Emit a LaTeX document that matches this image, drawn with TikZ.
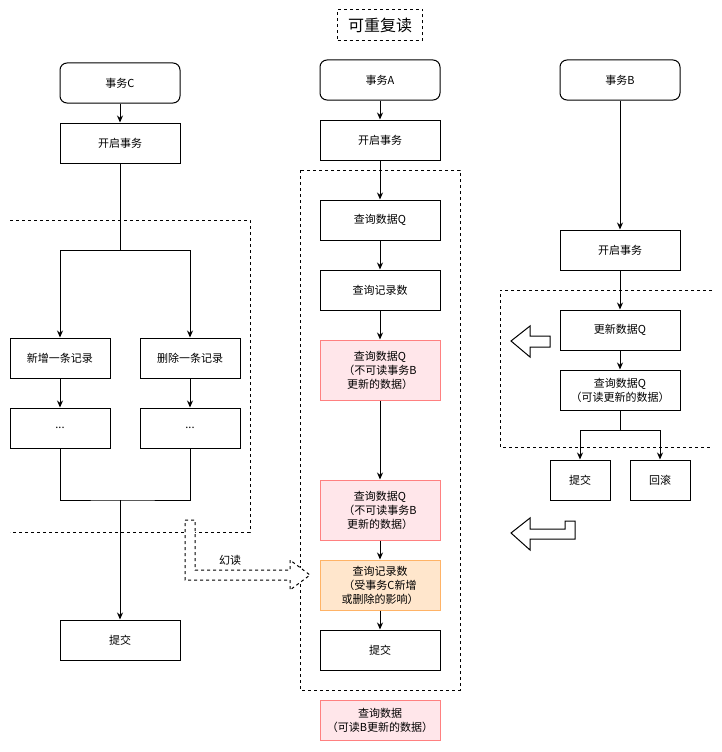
\documentclass[tikz,border=0pt]{standalone}
\usepackage{fontspec}
\setmainfont{Noto Sans CJK SC}
\usetikzlibrary{arrows.meta}
\definecolor{pinkfill}{RGB}{255,230,234}
\definecolor{pinkline}{RGB}{255,128,128}
\definecolor{orfill}{RGB}{255,230,204}
\definecolor{orline}{RGB}{255,179,102}
\tikzset{
  box/.style={draw, line width=1pt, minimum width=120pt, minimum height=40pt, inner sep=0pt, align=center, font=\fontsize{11}{14}\selectfont},
  rbox/.style={box, rounded corners=7pt},
  sbox/.style={box, minimum width=100pt},
  tbox/.style={box, minimum width=60pt},
  pinkbox/.style={box, fill=pinkfill, draw=pinkline},
  orbox/.style={box, fill=orfill, draw=orline},
  conn/.style={line width=1pt},
  arr/.style={conn, -{Stealth[length=7pt,width=6pt]}},
  dsh/.style={line width=1pt, dash pattern=on 3pt off 3pt},
  hollow/.style={line width=1pt, fill=white, line join=miter}
}
\begin{document}
\begin{tikzpicture}[x=1pt,y=-1pt]
\useasboundingbox (0,0) rectangle (722,752);
% title
\node[dsh, draw, minimum width=85pt, minimum height=31pt, inner sep=0pt, font=\fontsize{16}{18}\selectfont] (title) at (380,25) {可重复读};

% dashed regions
\draw[dsh] (10,220) -- (250,220) -- (250,532) -- (10,532);
\draw[dsh] (300,170) rectangle (460,690);
\draw[dsh] (712,290) -- (500,290) -- (500,447) -- (712,447);

% column C
\node[rbox] (tC) at (120,83) {事务C};
\node[box] (sC) at (120,143) {开启事务};
\node[sbox] (add) at (60,358) {新增一条记录};
\node[sbox] (del) at (190,358) {删除一条记录};
\node[sbox] (d1) at (60,428) {...};
\node[sbox] (d2) at (190,428) {...};
\node[box] (cC) at (120,640) {提交};
\coordinate (j1) at (120,250);
\coordinate (j2) at (120,500);
\draw[arr] (tC) -- (sC);
\draw[conn] (sC) -- (j1);
\draw[arr] (j1) -| (add.north);
\draw[arr] (j1) -| (del.north);
\draw[arr] (add) -- (d1);
\draw[arr] (del) -- (d2);
\draw[conn] (d1.south) |- (j2) -| (d2.south);
\draw[arr] (j2) -- (cC);

% column A
\node[rbox] (tA) at (380,80) {事务A};
\node[box] (sA) at (380,140) {开启事务};
\node[box] (q1) at (380,220) {查询数据Q};
\node[box] (n1) at (380,290) {查询记录数};
\node[pinkbox, minimum height=60pt] (q2) at (380,370) {查询数据Q\\（不可读事务B\\更新的数据）};
\node[pinkbox, minimum height=60pt] (q3) at (380,510) {查询数据Q\\（不可读事务B\\更新的数据）};
\node[orbox, minimum height=50pt] (n2) at (380,585) {查询记录数\\（受事务C新增\\或删除的影响）};
\node[box] (cA) at (380,650) {提交};
\node[pinkbox] (q4) at (380,720) {查询数据\\（可读B更新的数据）};
\draw[arr] (tA) -- (sA);
\draw[arr] (sA) -- (q1);
\draw[arr] (q1) -- (n1);
\draw[arr] (n1) -- (q2);
\draw[arr] (q2) -- (q3);
\draw[arr] (q3) -- (n2);
\draw[arr] (n2) -- (cA);

% column B
\node[rbox] (tB) at (620,80) {事务B};
\node[box] (sB) at (620,250) {开启事务};
\node[box] (uB) at (620,330) {更新数据Q};
\node[box] (qB) at (620,390) {查询数据Q\\（可读更新的数据）};
\node[tbox] (cB) at (580,480) {提交};
\node[tbox] (rB) at (660,480) {回滚};
\coordinate (j3) at (620,430);
\draw[arr] (tB) -- (sB);
\draw[arr] (sB) -- (uB);
\draw[arr] (uB) -- (qB);
\draw[conn] (qB) -- (j3);
\draw[arr] (j3) -| (cB.north);
\draw[arr] (j3) -| (rB.north);

% hollow arrows
\draw[hollow] (511,341) -- (530,326) -- (530,336) -- (550,336) -- (550,347) -- (530,347) -- (530,357) -- cycle;
\draw[hollow] (511,533) -- (530,518) -- (530,529) -- (565,529) -- (565,521) -- (575,521) -- (575,539) -- (530,539) -- (530,550) -- cycle;

% phantom read dashed arrow
\draw[dsh, fill=white, line join=miter] (185,520) -- (195,520) -- (195,570) -- (290,570) -- (290,560) -- (310,575) -- (290,590) -- (290,580) -- (185,580) -- cycle;
\node[font=\fontsize{11}{14}\selectfont] (hd) at (230,560) {幻读};
\end{tikzpicture}
\end{document}
